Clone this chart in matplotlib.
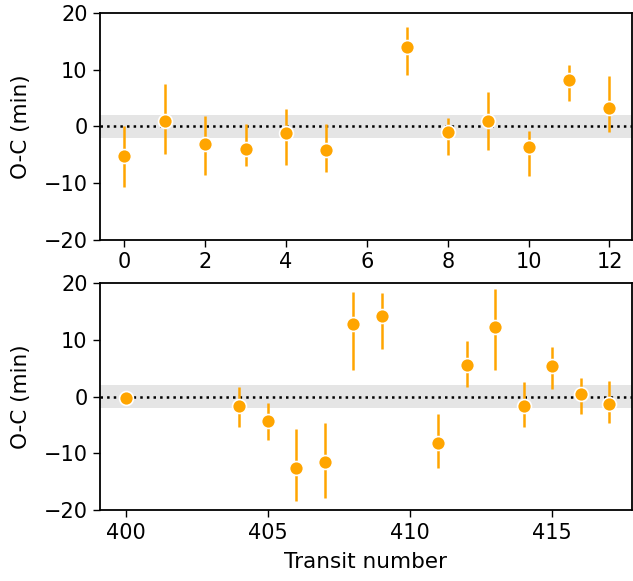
import numpy as np
import matplotlib as mpl
mpl.use('agg')
import matplotlib.pyplot as plt

# top panel
n1 = [0, 1, 2, 3, 4, 5, 7, 8, 9, 10, 11, 12]
oc1 = [-5.3, 0.9, -3.1, -3.9, -1.2, -4.2, 14.0, -1.0, 0.9, -3.7, 8.1, 3.3]
up1 = [5.3, 6.6, 4.9, 4.4, 4.3, 4.7, 3.5, 2.4, 5.2, 2.8, 2.7, 5.6]
lo1 = [5.3, 5.7, 5.5, 3.0, 5.6, 3.9, 4.9, 4.1, 5.0, 5.0, 3.6, 4.3]

# bottom panel
n2 = [400, 404, 405, 406, 407, 408, 409, 411, 412, 413, 414, 415, 416, 417]
oc2 = [-0.3, -1.6, -4.3, -12.6, -11.5, 12.8, 14.2, -8.1, 5.5, 12.3, -1.7, 5.3, 0.4, -1.3]
up2 = [0.3, 3.2, 3.2, 6.8, 6.9, 5.6, 4.0, 5.1, 4.3, 6.6, 4.2, 3.5, 2.9, 4.0]
lo2 = [0.3, 3.8, 3.3, 5.8, 6.4, 8.1, 5.8, 4.4, 3.9, 7.6, 3.7, 3.9, 3.5, 3.3]

plt.rcParams['font.family'] = 'DejaVu Sans'
plt.rcParams['font.size'] = 15

fig = plt.figure(figsize=(6.33, 5.81), dpi=100)
ax1 = fig.add_axes([0.158, 0.587, 0.84, 0.391])
ax2 = fig.add_axes([0.158, 0.122, 0.84, 0.391])

def panel(ax, x, y, up, lo, xlim):
    ax.axhspan(-2, 2, color='#e5e5e5', lw=0, zorder=0)
    ax.axhline(0, color='black', ls=':', lw=1.8, zorder=1)
    ax.errorbar(x, y, yerr=[lo, up], fmt='o', color='orange', ecolor='orange',
                elinewidth=1.8, markersize=10, markeredgecolor='white',
                markeredgewidth=1.2, capsize=0, zorder=3)
    ax.set_xlim(*xlim)
    ax.set_ylim(-20, 20)
    ax.set_yticks([-20, -10, 0, 10, 20])
    ax.set_yticklabels(['\u221220', '\u221210', '0', '10', '20'])
    ax.set_ylabel('O-C (min)', fontsize=15.5, labelpad=9)
    ax.tick_params(direction='out', length=5, width=1.0, pad=4)
    for s in ax.spines.values():
        s.set_linewidth(1.3)

panel(ax1, n1, oc1, up1, lo1, (-0.6, 12.55))
ax1.set_xticks([0, 2, 4, 6, 8, 10, 12])
panel(ax2, n2, oc2, up2, lo2, (399.1, 417.8))
ax2.set_xticks([400, 405, 410, 415])
ax2.set_xlabel('Transit number', fontsize=15.5, labelpad=7)

fig.savefig('out.png', dpi=100)
